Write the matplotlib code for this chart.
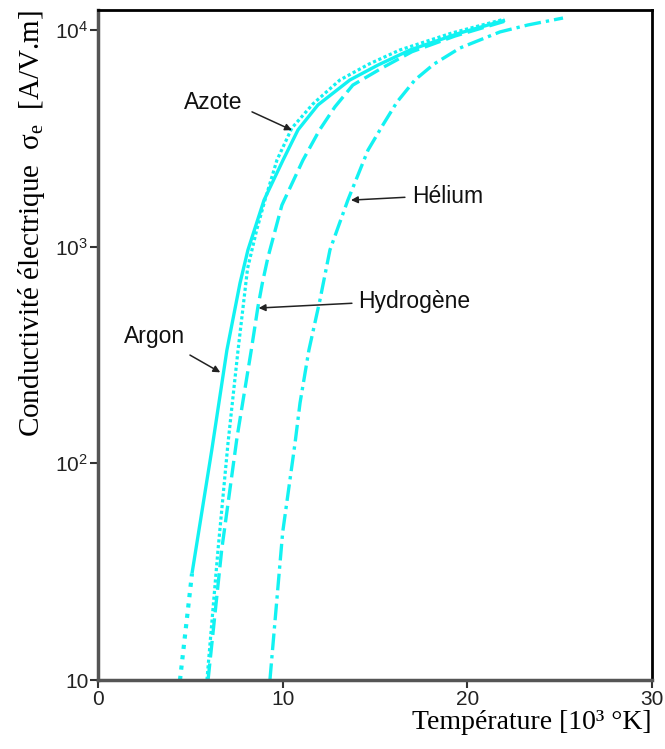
"""Conductivité électrique de quelques gaz en fonction de la température."""

import matplotlib

matplotlib.use("Agg")
import matplotlib.pyplot as plt
from matplotlib.ticker import FixedFormatter, FixedLocator, NullLocator

plt.rcParams["mathtext.default"] = "regular"

CYAN = "#12F2F2"
SANS = "Liberation Sans"
SERIF = "Liberation Serif"

# temperature in 10^3 K, conductivity in A/V.m
argon_t = [4.44, 5.09, 6.16, 6.98, 7.69, 8.12, 8.99, 10.02, 10.83, 11.91, 13.64,
           15.16, 16.9, 19.6, 22.04]
argon_s = [10, 31, 115, 333, 679, 966, 1640, 2510, 3460, 4510, 5880,
           6890, 8090, 9690, 11100]

azote_t = [5.9, 6.5, 7.04, 7.58, 8.1, 8.6, 9.04, 9.69, 10.5, 11.64, 13.1,
           14.67, 16.35, 19.17, 22.0]
azote_s = [10, 40, 124, 331, 794, 1200, 1640, 2510, 3530, 4560, 5880,
           6960, 8090, 9690, 11220]

hydrogene_t = [5.96, 6.7, 7.53, 8.3, 8.66, 8.9, 9.2, 9.96, 11.1, 12.0, 12.83,
               13.8, 15.38, 17.0, 19.33, 22.0]
hydrogene_s = [10, 40, 132, 333, 527, 679, 891, 1556, 2510, 3460, 4420,
               5570, 6680, 7940, 9380, 10960]

helium_t = [9.31, 10.0, 10.67, 10.94, 11.42, 12.02, 12.56, 13.53, 14.62, 15.43,
            16.19, 17.16, 18.19, 19.6, 21.77, 23.28, 25.18]
helium_s = [10, 48, 124, 190, 333, 568, 966, 1640, 2790, 3650,
            4650, 5880, 6960, 8260, 9800, 10550, 11360]

y_ticks = [10, 100, 1000, 10000]
y_tick_labels = ["10", "$10^2$", "$10^3$", "$10^4$"]
x_ticks = [0, 10, 20, 30]

# label text position, arrow tail, arrow tip (data coords)
labels = [
    ("Azote", (4.66, 4650), (8.34, 4190), (10.5, 3450)),
    ("Hélium", (17.0, 1710), (16.62, 1690), (13.7, 1640)),
    ("Hydrogène", (14.08, 561), (13.75, 548), (8.7, 521)),
    ("Argon", (1.41, 383), (4.98, 316), (6.62, 263)),
]

fig = plt.figure(figsize=(6.65, 7.49), dpi=100)
ax = fig.add_axes((98 / 665, 69 / 749, 554 / 665, 670 / 749))

ax.plot(argon_t[:2], argon_s[:2], color=CYAN, lw=3.0, ls=(0, (1.0, 1.5)))
ax.plot(argon_t[1:], argon_s[1:], color=CYAN, lw=2.4, solid_capstyle="butt")
ax.plot(azote_t, azote_s, color=CYAN, lw=2.3, ls=(0, (1.0, 0.8)))
ax.plot(hydrogene_t, hydrogene_s, color=CYAN, lw=2.4, ls=(0, (5.0, 1.8)))
ax.plot(helium_t, helium_s, color=CYAN, lw=2.4, ls=(0, (5.0, 1.5, 1.0, 1.5)))

for name, pos, tail, tip in labels:
    ax.text(pos[0], pos[1], name, family=SANS, fontsize=16.5, ha="left",
            va="center", color="#111111")
    ax.annotate("", xy=tip, xytext=tail,
                arrowprops=dict(arrowstyle="-|>", color="#222222", lw=1.1,
                                mutation_scale=10, shrinkA=0, shrinkB=0))

ax.set_yscale("log")
ax.set_xlim(0, 30)
ax.set_ylim(10, 12370)
ax.yaxis.set_major_locator(FixedLocator(y_ticks))
ax.yaxis.set_major_formatter(FixedFormatter(y_tick_labels))
ax.yaxis.set_minor_locator(NullLocator())
ax.set_xticks(x_ticks)
ax.tick_params(direction="out", length=5.5, width=1.5, color="#333333",
               labelsize=15, pad=1.5)
for lab in ax.get_xticklabels() + ax.get_yticklabels():
    lab.set_family(SANS)
    lab.set_color("#222222")

for side in ("left", "bottom"):
    ax.spines[side].set_color("#555555")
    ax.spines[side].set_linewidth(2.5)
for side in ("top", "right"):
    ax.spines[side].set_color("black")
    ax.spines[side].set_linewidth(2.0)

ax.set_xlabel("Température [10³ °K]", loc="right", family=SERIF, fontsize=20,
              labelpad=1)
ax.set_ylabel("Conductivité électrique  σ$_e$  [A/V.m]", family=SERIF,
              fontsize=21, labelpad=6, loc="top")

fig.savefig("out.png", dpi=100)
